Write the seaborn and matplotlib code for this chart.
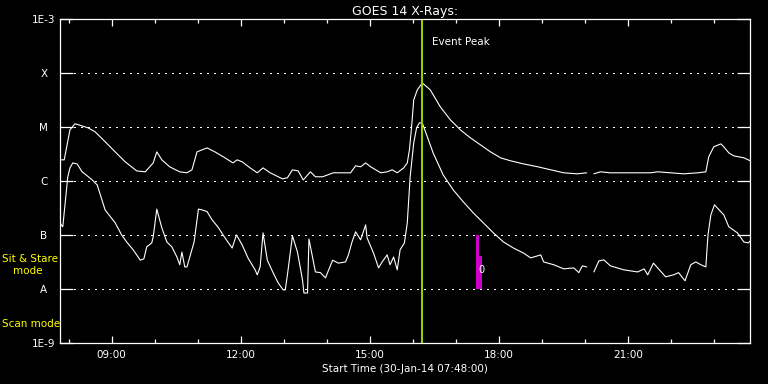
import numpy as np
import pandas as pd
import matplotlib
matplotlib.use("Agg")
import matplotlib.pyplot as plt
import matplotlib.dates as mdates
from matplotlib.ticker import NullLocator
import seaborn as sns

nan = np.nan
day = "2014-01-30 "

# 1-8 Angstrom channel (upper curve)
long_time = ["07:48","07:54","08:02","08:09","08:14","08:27","08:37","08:51","09:05","09:19",
             "09:35","09:47","09:58","10:03","10:10","10:21","10:35","10:45","10:52","10:59",
             "11:13","11:24","11:38","11:49","11:55","12:02","12:13","12:23","12:31","12:41",
             "12:58","13:05","13:12","13:20","13:27","13:37","13:44","13:54","14:09","14:33",
             "14:40","14:47","14:54","15:01","15:15","15:24","15:31","15:38","15:47","15:52",
             "15:55","15:58","16:01","16:06","16:13","16:24","16:38","16:52","17:06","17:20",
             "17:34","17:48","18:02","18:16","18:34","18:54","19:12","19:30","19:49","20:02",
             "20:07","20:12","20:21","20:35","20:59","21:31","21:41","21:59","22:17","22:37",
             "22:48","22:52","22:59","23:09","23:13","23:20","23:27","23:41","23:50"]
long_flux = [2.45e-6,2.45e-6,8.8e-6,1.14e-5,1.09e-5,9.6e-6,8.1e-6,5.3e-6,3.44e-6,2.25e-6,
             1.53e-6,1.47e-6,2.15e-6,3.44e-6,2.45e-6,1.82e-6,1.47e-6,1.41e-6,1.6e-6,3.44e-6,
             4.08e-6,3.44e-6,2.67e-6,2.15e-6,2.45e-6,2.25e-6,1.74e-6,1.41e-6,1.74e-6,1.41e-6,
             1.09e-6,1.14e-6,1.6e-6,1.53e-6,1.04e-6,1.47e-6,1.19e-6,1.19e-6,1.41e-6,1.41e-6,
             1.9e-6,1.82e-6,2.15e-6,1.82e-6,1.41e-6,1.47e-6,1.6e-6,1.41e-6,1.74e-6,2.15e-6,
             3.75e-6,1.0e-5,3.16e-5,4.84e-5,6.5e-5,4.84e-5,2.35e-5,1.35e-5,8.8e-6,6.25e-6,
             4.64e-6,3.44e-6,2.67e-6,2.35e-6,2.06e-6,1.82e-6,1.6e-6,1.41e-6,1.35e-6,1.41e-6,
             nan,1.35e-6,1.47e-6,1.41e-6,1.41e-6,1.41e-6,1.47e-6,1.41e-6,1.35e-6,1.41e-6,
             1.47e-6,2.78e-6,4.26e-6,4.84e-6,4.26e-6,3.3e-6,2.9e-6,2.67e-6,2.35e-6]

# 0.5-4 Angstrom channel (lower curve)
short_time = ["07:48","07:52","07:59","08:02","08:06","08:12","08:19","08:26","08:33","08:40",
              "08:51","09:05","09:14","09:21","09:30","09:40","09:45","09:49","09:56","09:58",
              "10:03","10:10","10:17","10:24","10:31","10:35","10:38","10:42","10:45","10:49",
              "10:55","11:01","11:06","11:13","11:20","11:28","11:38","11:48","11:54","12:02",
              "12:10","12:20","12:23","12:27","12:31","12:37","12:45","12:52","12:59","13:02",
              "13:05","13:12","13:19","13:26","13:28","13:33","13:35","13:44","13:51","13:58",
              "14:08","14:16","14:26","14:30","14:35","14:40","14:47","14:54","14:56","15:05",
              "15:12","15:17","15:24","15:28","15:33","15:38","15:42","15:48","15:52","15:56",
              "16:01","16:05","16:09","16:13","16:20","16:28","16:42","16:56","17:10","17:24",
              "17:38","17:52","18:06","18:20","18:34","18:44","18:58","19:02","19:16","19:30",
              "19:44","19:51","19:56","20:02","20:07","20:12","20:19","20:26","20:35","20:54",
              "21:13","21:22","21:27","21:35","21:52","22:03","22:10","22:19","22:27","22:34",
              "22:41","22:48","22:51","22:55","23:00","23:09","23:13","23:20","23:32","23:41",
              "23:47","23:50"]
short_flux = [1.67e-7,1.41e-7,1.19e-6,1.74e-6,2.15e-6,2.06e-6,1.47e-6,1.24e-6,1.04e-6,8.4e-7,
              2.9e-7,1.67e-7,1.0e-7,7.4e-8,5.3e-8,3.4e-8,3.6e-8,6.0e-8,7.1e-8,9.2e-8,
              3.0e-7,1.35e-7,7.4e-8,6.0e-8,3.9e-8,2.8e-8,4.8e-8,2.55e-8,2.55e-8,3.9e-8,
              7.4e-8,3.0e-7,2.9e-7,2.7e-7,1.9e-7,1.41e-7,8.8e-8,5.7e-8,1.0e-7,6.5e-8,
              3.75e-8,2.25e-8,1.82e-8,2.55e-8,1.09e-7,3.4e-8,2.0e-8,1.3e-8,9.6e-9,9.6e-9,
              1.82e-8,9.6e-8,4.8e-8,1.47e-8,8.4e-9,8.4e-9,8.4e-8,2.06e-8,2.0e-8,1.6e-8,
              3.4e-8,3.0e-8,3.16e-8,4.26e-8,7.4e-8,1.14e-7,8.1e-8,1.53e-7,8.8e-8,4.6e-8,
              2.45e-8,3.16e-8,4.26e-8,2.8e-8,3.9e-8,2.25e-8,5.3e-8,7.1e-8,1.67e-7,1.19e-6,
              5.05e-6,9.6e-6,1.19e-5,1.17e-5,6.5e-6,3.3e-6,1.29e-6,6.8e-7,4.1e-7,2.55e-7,
              1.67e-7,1.09e-7,7.4e-8,5.7e-8,4.6e-8,3.75e-8,4.26e-8,3.16e-8,2.8e-8,2.35e-8,
              2.45e-8,2.0e-8,2.67e-8,2.55e-8,nan,2.06e-8,3.3e-8,3.44e-8,2.67e-8,2.25e-8,
              2.06e-8,2.35e-8,1.82e-8,3.0e-8,1.67e-8,1.82e-8,2.0e-8,1.41e-8,2.8e-8,3.16e-8,
              2.8e-8,2.55e-8,1.0e-7,2.35e-7,3.6e-7,2.67e-7,2.35e-7,1.41e-7,1.09e-7,7.4e-8,
              7.1e-8,7.7e-8]

class_labels = ["1E-9", "A", "B", "C", "M", "X", "1E-3"]
class_levels = [1e-9, 1e-8, 1e-7, 1e-6, 1e-5, 1e-4, 1e-3]

peak_time = "16:13"
stare_time = ["17:28", "17:32"]
stare_top = [1e-7, 4.1e-8]
stare_bottom = 1e-8
stare_width_min = 4.5
marker_time = "17:35"
marker_flux = 2.2e-8


def to_frame(times, flux):
    df = pd.DataFrame({"time": pd.to_datetime([day + t for t in times]), "flux": flux})
    # a missing value splits the trace into separate segments
    df["seg"] = df["flux"].isna().cumsum()
    return df.dropna()


long_df = to_frame(long_time, long_flux)
short_df = to_frame(short_time, short_flux)

sns.set_style("dark")
plt.rcParams["font.family"] = ["DejaVu Sans"]

fig, ax = plt.subplots(figsize=(7.68, 3.84), dpi=100)
fig.patch.set_facecolor("black")
ax.set_facecolor("black")
fig.subplots_adjust(left=0.078, right=0.977, bottom=0.107, top=0.951)

for df in [long_df, short_df]:
    sns.lineplot(data=df, x="time", y="flux", units="seg", estimator=None,
                 color="white", lw=0.8, ax=ax)

ax.set_yscale("log")
ax.set_ylim(1e-9, 1e-3)
ax.set_xlim(pd.Timestamp(day + "07:48"), pd.Timestamp(day + "23:50"))

# dotted class levels
for lv in class_levels[1:-1]:
    ax.axhline(lv, color="white", lw=0.9, ls=(0, (0.9, 4.7)), antialiased=False)

# event peak
peak = pd.Timestamp(day + peak_time)
ax.axvline(peak, color="#9acd00", lw=1.5)
ax.text(peak + pd.Timedelta(minutes=14), 3.75e-4, "Event Peak", color="white",
        fontsize=7.5, ha="left", va="center")

# sit & stare bars
bx = mdates.date2num(pd.to_datetime([day + t for t in stare_time]))
ax.bar(bx, [t - stare_bottom for t in stare_top], bottom=stare_bottom,
       width=stare_width_min / 1440, align="edge", color="#cc00cc", lw=0)
ax.text(pd.Timestamp(day + marker_time), marker_flux, "0", color="white",
        fontsize=7, ha="center", va="center")

# axes styling
for sp in ax.spines.values():
    sp.set_color("white")
    sp.set_linewidth(0.9)
ax.grid(False)

ax.set_yticks(class_levels)
ax.set_yticklabels(class_labels)
ax.yaxis.set_minor_locator(NullLocator())
ax.tick_params(axis="y", which="major", direction="in", length=9.5, width=0.9,
               left=True, right=True, color="white", labelcolor="white",
               pad=11.5, labelsize=7.5)
for lab in ax.get_yticklabels():
    lab.set_horizontalalignment("center")

ax.xaxis.set_major_locator(mdates.HourLocator(byhour=[9, 12, 15, 18, 21]))
ax.xaxis.set_minor_locator(mdates.HourLocator())
ax.xaxis.set_major_formatter(mdates.DateFormatter("%H:%M"))
ax.tick_params(axis="x", which="major", direction="in", length=5, width=0.9,
               top=True, bottom=True, color="white", labelcolor="white",
               pad=5, labelsize=7.5)
ax.tick_params(axis="x", which="minor", direction="in", length=2.8, width=0.9,
               top=True, bottom=True, color="white")

ax.set_ylabel("")
ax.set_xlabel("Start Time (30-Jan-14 07:48:00)", color="white", fontsize=7.5, labelpad=3)
ax.set_title("GOES 14 X-Rays:", color="white", fontsize=9, pad=3)

fig.text(2 / 768, 1 - 259 / 384, "Sit & Stare", color="#ffff00", fontsize=7.5,
         ha="left", va="center")
fig.text(13 / 768, 1 - 271 / 384, "mode", color="#ffff00", fontsize=7.5,
         ha="left", va="center")
fig.text(2 / 768, 1 - 324 / 384, "Scan mode", color="#ffff00", fontsize=7.5,
         ha="left", va="center")

fig.savefig("out.png", dpi=100, facecolor="black")
